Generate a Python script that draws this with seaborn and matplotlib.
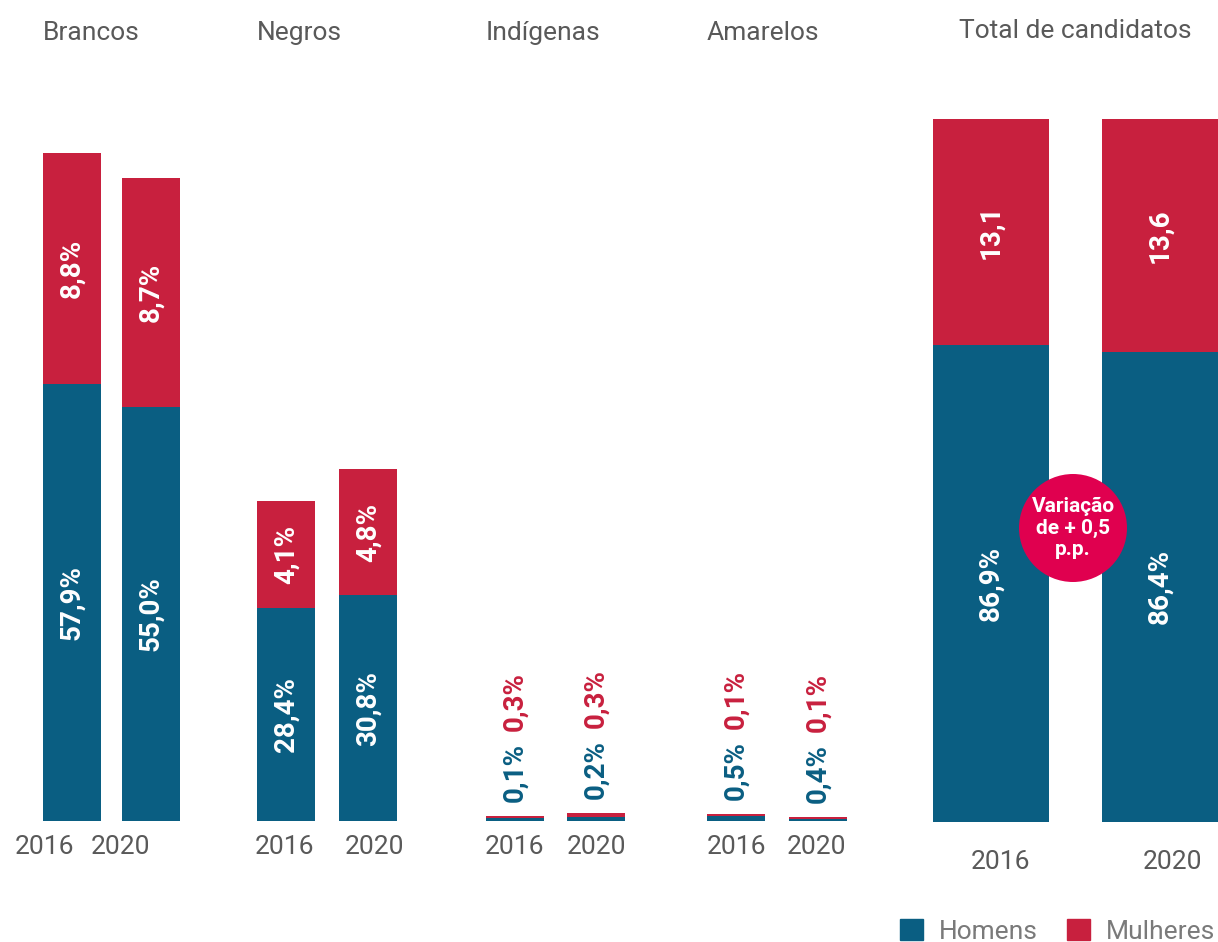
import matplotlib
matplotlib.use("Agg")
import matplotlib.pyplot as plt
import matplotlib.patches as mpatches
import seaborn as sns
import pandas as pd
import numpy as np

# dados (percentuais dos rótulos)
grupos = ["Brancos", "Negros", "Indígenas", "Amarelos"]
anos = ["2016", "2020", "2016", "2020", "2016", "2020", "2016", "2020"]
homens_pct = [57.9, 55.0, 28.4, 30.8, 0.1, 0.2, 0.5, 0.4]
mulheres_pct = [8.8, 8.7, 4.1, 4.8, 0.3, 0.3, 0.1, 0.1]
# altura dos segmentos como aparecem no gráfico original
homens_alt = [43.7, 41.4, 21.3, 22.6, 0.3, 0.45, 0.5, 0.25]
mulheres_alt = [23.1, 22.9, 10.7, 12.6, 0.25, 0.35, 0.25, 0.2]

total_anos = ["2016", "2020"]
total_homens_pct = [86.9, 86.4]
total_mulheres_pct = [13.1, 13.6]
total_homens_alt = [67.9, 66.9]
total_mulheres_alt = [32.1, 33.1]

azul = "#0a5e82"
vermelho = "#c8203e"
cinza = "#595959"

# posições (em pixels da figura)
pos = [72, 151, 286, 368, 515, 596, 736, 818]
pos_anos = [44, 120, 285, 374, 515, 596, 736, 816]
pos_grupos = [43, 257, 486, 707]
pos_total = [991, 1160]
pos_total_anos = [1000, 1173]

sns.set_style("white")
plt.rcParams['font.family'] = ['Roboto', 'DejaVu Sans']

W, H = 1218, 942
fig = plt.figure(figsize=(W / 100, H / 100), dpi=100)

def fmt(v, pct=True):
    s = f"{v:.1f}".replace(".", ",")
    return s + "%" if pct else s

# painel da esquerda
ax = fig.add_axes([0, (H - 821) / H, 880 / W, 700 / H])
df = pd.DataFrame({"x": pos, "topo": np.array(homens_alt) + np.array(mulheres_alt),
                   "homens": homens_alt})
sns.barplot(data=df, x="x", y="topo", color=vermelho, native_scale=True,
            width=58 / 79, saturation=1, errorbar=None, linewidth=0, ax=ax)
sns.barplot(data=df, x="x", y="homens", color=azul, native_scale=True,
            width=58 / 79, saturation=1, errorbar=None, linewidth=0, ax=ax)
ax.set_xlim(0, 880)
ax.set_ylim(0, 70)

for i in range(len(pos)):
    h, m = homens_alt[i], mulheres_alt[i]
    if h > 5:
        ax.text(pos[i], h / 2, fmt(homens_pct[i]), rotation=90, ha="center", va="center",
                color="white", fontsize=20, fontweight="bold")
        ax.text(pos[i], h + m / 2, fmt(mulheres_pct[i]), rotation=90, ha="center", va="center",
                color="white", fontsize=20, fontweight="bold")
    else:
        ax.annotate(fmt(homens_pct[i]), (pos[i], h + m), xytext=(0, 10), textcoords="offset points",
                    rotation=90, ha="center", va="bottom", color=azul, fontsize=20, fontweight="bold")
        ax.annotate(fmt(mulheres_pct[i]), (pos[i], h + m), xytext=(0, 61), textcoords="offset points",
                    rotation=90, ha="center", va="bottom", color=vermelho, fontsize=20, fontweight="bold")

ax.set_xticks(pos_anos)
ax.set_xticklabels(anos)
ax.tick_params(axis="x", length=0, pad=10, labelsize=19, labelcolor=cinza)
ax.set_yticks([])
ax.set_xlabel("")
ax.set_ylabel("")
sns.despine(ax=ax, left=True, bottom=True)

for g, x in zip(grupos, pos_grupos):
    fig.text(x / W, 1 - 33 / H, g, ha="left", va="center", fontsize=19, color=cinza)

# painel do total
ax2 = fig.add_axes([880 / W, (H - 822) / H, 338 / W, 703 / H])
df2 = pd.DataFrame({"x": pos_total,
                    "topo": np.array(total_homens_alt) + np.array(total_mulheres_alt),
                    "homens": total_homens_alt})
sns.barplot(data=df2, x="x", y="topo", color=vermelho, native_scale=True,
            width=116 / 169, saturation=1, errorbar=None, linewidth=0, ax=ax2)
sns.barplot(data=df2, x="x", y="homens", color=azul, native_scale=True,
            width=116 / 169, saturation=1, errorbar=None, linewidth=0, ax=ax2)
ax2.set_xlim(880, 1218)
ax2.set_ylim(0, 100)
for i in range(2):
    h, m = total_homens_alt[i], total_mulheres_alt[i]
    ax2.text(pos_total[i], h / 2, fmt(total_homens_pct[i]), rotation=90, ha="center", va="center",
             color="white", fontsize=20, fontweight="bold")
    ax2.text(pos_total[i], h + m / 2, fmt(total_mulheres_pct[i], pct=False), rotation=90,
             ha="center", va="center", color="white", fontsize=20, fontweight="bold")
ax2.set_xticks(pos_total_anos)
ax2.set_xticklabels(total_anos)
ax2.tick_params(axis="x", length=0, pad=20, labelsize=19, labelcolor=cinza)
ax2.set_yticks([])
ax2.set_xlabel("")
ax2.set_ylabel("")
sns.despine(ax=ax2, left=True, bottom=True)
fig.text(1075 / W, 1 - 31 / H, "Total de candidatos", ha="center", va="center",
         fontsize=19, color=cinza)

# círculo da variação
circ = mpatches.Circle((10.73, (H - 528) / 100), 0.54, transform=fig.dpi_scale_trans,
                       facecolor="#e0004f", edgecolor="none")
fig.add_artist(circ)
fig.text(1073 / W, 1 - 528 / H, "Variação\nde + 0,5\np.p.", ha="center", va="center",
         color="white", fontsize=15, fontweight="bold", linespacing=1.15)

# legenda
handles = [mpatches.Patch(color=azul, label="Homens"),
           mpatches.Patch(color=vermelho, label="Mulheres")]
fig.legend(handles=handles, loc="lower right", bbox_to_anchor=(1.017, -0.027), ncol=2,
           frameon=False, fontsize=19, labelcolor="#7a7a7a", handlelength=0.87,
           handleheight=0.87, handletextpad=0.6, columnspacing=1.1)

plt.savefig("out.png", dpi=100)
